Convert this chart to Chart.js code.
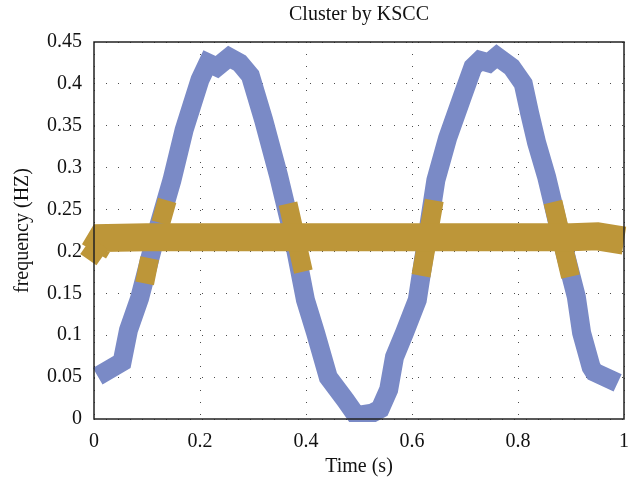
<!DOCTYPE html>
<html>
<head>
<meta charset="utf-8">
<script src="https://cdn.jsdelivr.net/npm/chart.js@4"></script>
<style>
  body { margin: 0; background: #fff; }
  #wrap { width: 640px; height: 485px; }
</style>
</head>
<body>
<div id="wrap"><canvas id="kscc-chart" width="640" height="485"></canvas></div>
<script>
// values
const blueTime = [0.007, 0.053, 0.065, 0.086, 0.115, 0.147, 0.17, 0.2, 0.215, 0.232, 0.255, 0.275, 0.295, 0.32, 0.348, 0.375, 0.399, 0.418, 0.442, 0.474, 0.495, 0.525, 0.54, 0.556, 0.567, 0.586, 0.61, 0.645, 0.667, 0.695, 0.715, 0.728, 0.745, 0.76, 0.788, 0.81, 0.822, 0.835, 0.854, 0.882, 0.91, 0.92, 0.938, 0.944, 0.988];
const blueFreq = [0.051, 0.068, 0.106, 0.144, 0.215, 0.285, 0.345, 0.405, 0.425, 0.42, 0.432, 0.425, 0.41, 0.357, 0.291, 0.22, 0.142, 0.103, 0.05, 0.023, 0.004, 0.007, 0.012, 0.035, 0.074, 0.103, 0.142, 0.285, 0.335, 0.385, 0.42, 0.428, 0.425, 0.433, 0.42, 0.4, 0.365, 0.33, 0.289, 0.215, 0.146, 0.103, 0.062, 0.056, 0.043];

const goldTime = [0, 0.015, 0.1, 0.2, 0.3, 0.4, 0.5, 0.6, 0.7, 0.8, 0.9, 0.95, 1];
const goldFreq = [0.2, 0.216, 0.217, 0.217, 0.217, 0.217, 0.217, 0.217, 0.217, 0.217, 0.217, 0.218, 0.213];

// gold pieces lying over the blue curve where they cross
const crossTime = [0.0955, 0.105, 0.11, 0.126, 0.138, 0.3, 0.366, 0.395, 0.5, 0.617, 0.642, 0.75, 0.866, 0.899];
const crossFreq = [0.162, 0.192, null, 0.234, 0.261, null, 0.257, 0.176, null, 0.171, 0.261, null, 0.259, 0.17];

const xTicks = [0, 0.2, 0.4, 0.6, 0.8, 1];
const yTicks = [0, 0.05, 0.1, 0.15, 0.2, 0.25, 0.3, 0.35, 0.4, 0.45];

const BLUE = "rgb(122,138,198)";
const GOLD = "rgb(189,150,57)";
const FONT = "'Liberation Serif', 'Times New Roman', serif";

const toPoints = (xs, ys) => xs.map((x, i) => ({ x: x, y: ys[i] }));

// box round the plot, drawn last
const frame = {
    id: "frame",
    afterDraw(chart) {
        const a = chart.chartArea;
        const ctx = chart.ctx;
        ctx.save();
        ctx.strokeStyle = "#222";
        ctx.lineWidth = 1.5;
        ctx.strokeRect(a.left, a.top, a.right - a.left, a.bottom - a.top);
        ctx.restore();
    }
};

const gridOpts = {
    color: "rgba(0,0,0,0.7)",
    lineWidth: 1,
    drawTicks: false
};

new Chart(document.querySelector("#kscc-chart").getContext("2d"), {
    type: "line",
    data: {
        datasets: [
            {
                label: "gold",
                data: toPoints(goldTime, goldFreq),
                borderColor: GOLD,
                backgroundColor: GOLD,
                borderWidth: 28,
                borderJoinStyle: "miter",
                pointStyle: "rect",
                pointRotation: 35,
                pointRadius: c => c.dataIndex === 0 ? 14 : 0,
                pointBorderWidth: 0,
                clip: false,
                order: 1
            },
            {
                label: "cross",
                data: toPoints(crossTime, crossFreq),
                borderColor: GOLD,
                borderWidth: 19,
                pointRadius: 0,
                spanGaps: false,
                order: 2
            },
            {
                label: "blue",
                data: toPoints(blueTime, blueFreq),
                borderColor: BLUE,
                borderWidth: 19,
                borderJoinStyle: "miter",
                pointRadius: 0,
                clip: 3,
                order: 3
            }
        ]
    },
    options: {
        responsive: false,
        devicePixelRatio: 1,
        animation: false,
        layout: { padding: { left: 0, right: 12, top: 0, bottom: 0 } },
        plugins: {
            legend: { display: false },
            tooltip: { enabled: false },
            title: {
                display: true,
                text: "Cluster by KSCC",
                fullSize: false,
                color: "#111",
                font: { family: FONT, size: 20, weight: "normal" },
                padding: { top: 3, bottom: 15 }
            }
        },
        scales: {
            x: {
                type: "linear",
                min: 0,
                max: 1,
                z: 1,
                afterBuildTicks: s => { s.ticks = xTicks.map(v => ({ value: v })); },
                afterFit: s => { s.height = 66; },
                grid: gridOpts,
                border: { display: false, dash: [1, 11] },
                ticks: {
                    padding: 11,
                    color: "#111",
                    font: { family: FONT, size: 20 },
                    callback: v => String(v)
                },
                title: {
                    display: true,
                    text: "Time (s)",
                    color: "#111",
                    font: { family: FONT, size: 20 },
                    padding: { top: 6, bottom: 6 }
                }
            },
            y: {
                type: "linear",
                min: 0,
                max: 0.45,
                z: 1,
                afterBuildTicks: s => { s.ticks = yTicks.map(v => ({ value: v })); },
                afterFit: s => { s.width = 94; },
                grid: gridOpts,
                border: { display: false, dash: [1, 11] },
                ticks: {
                    padding: 12,
                    color: "#111",
                    font: { family: FONT, size: 20 },
                    callback: v => String(v)
                },
                title: {
                    display: true,
                    text: "frequency (HZ)",
                    color: "#111",
                    font: { family: FONT, size: 20 },
                    padding: { top: 11, bottom: 11 }
                }
            }
        }
    },
    plugins: [frame]
});
</script>
</body>
</html>
